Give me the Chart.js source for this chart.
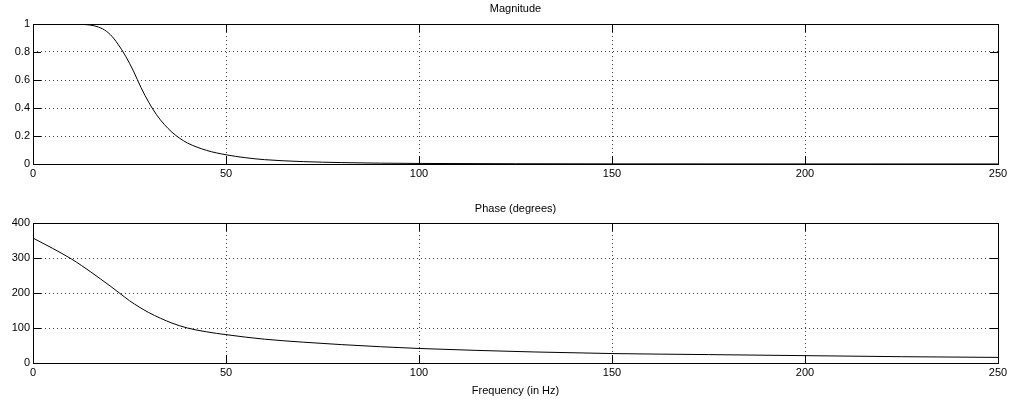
<!DOCTYPE html>
<html>
<head>
<meta charset="utf-8">
<script src="https://cdn.jsdelivr.net/npm/chart.js@4.4.1/dist/chart.umd.min.js"></script>
<style>
  html, body { margin: 0; padding: 0; background: #fff; }
  body { width: 1011px; height: 402px; position: relative; overflow: hidden; }
  .panel { position: absolute; left: 0; width: 1011px; }
  #magWrap { top: 0; height: 200px; }
  #phaseWrap { top: 200px; height: 202px; }
</style>
</head>
<body>
<div class="panel" id="magWrap"><canvas id="mag"></canvas></div>
<div class="panel" id="phaseWrap"><canvas id="phase"></canvas></div>
<script>
// Frequency response of the low-pass filter
const freqHz = [0, 5, 10, 14, 16, 18, 20, 22, 24, 26, 28, 30, 32, 34, 36, 38, 40, 45, 50, 55, 60, 70, 80, 90, 100, 125, 150, 200, 250];
const magnitude = [1.0, 1.0, 0.999, 0.995, 0.986, 0.966, 0.925, 0.857, 0.77, 0.665, 0.545, 0.44, 0.352, 0.283, 0.227, 0.184, 0.15, 0.097, 0.066, 0.045, 0.031, 0.017, 0.01, 0.006, 0.004, 0.002, 0.001, 0.0005, 0.0002];

const phaseFreqHz = [0, 5, 10, 12.5, 15, 17.5, 20, 22.5, 25, 27.5, 30, 33, 36, 40, 45, 50, 55, 60, 70, 80, 90, 100, 115, 130, 150, 175, 200, 225, 250];
const phaseDeg = [357, 328, 297, 279, 260, 240, 220, 199, 178, 160, 144, 128, 114, 100, 89, 81, 74, 68, 59.5, 52.5, 46.5, 41.5, 36, 31.5, 27, 24, 21, 18, 16];

const xTicks = [0, 50, 100, 150, 200, 250];
const magTicks = [0, 0.2, 0.4, 0.6, 0.8, 1];
const phaseTicks = [0, 100, 200, 300, 400];

const FONT = { family: "'Liberation Sans', Arial, sans-serif", size: 11, weight: 'normal' };
const TICK_LEN = 8;

// Box around the axes and inward tick marks on all four sides
const frameTicks = {
  id: 'frameTicks',
  afterDatasetsDraw(chart) {
    const { ctx, chartArea: a, scales } = chart;
    ctx.save();
    ctx.strokeStyle = '#000';
    ctx.lineWidth = 1;
    ctx.beginPath();
    scales.x.ticks.forEach(t => {
      const px = Math.round(scales.x.getPixelForValue(t.value)) + 0.5;
      ctx.moveTo(px, a.bottom); ctx.lineTo(px, a.bottom - TICK_LEN);
      ctx.moveTo(px, a.top); ctx.lineTo(px, a.top + TICK_LEN);
    });
    scales.y.ticks.forEach(t => {
      const py = Math.round(scales.y.getPixelForValue(t.value)) + 0.5;
      ctx.moveTo(a.left, py); ctx.lineTo(a.left + TICK_LEN, py);
      ctx.moveTo(a.right, py); ctx.lineTo(a.right - TICK_LEN, py);
    });
    ctx.stroke();
    ctx.strokeRect(Math.round(a.left) + 0.5, Math.round(a.top) + 0.5,
                   Math.round(a.right - a.left), Math.round(a.bottom - a.top));
    ctx.restore();
  }
};

function makePanel(canvasId, xs, ys, yTicks, titleText, xTitle, xAxisHeight, titleHeight) {
  const data = xs.map((x, i) => ({ x: x, y: ys[i] }));
  return new Chart(document.getElementById(canvasId), {
    type: 'line',
    data: {
      datasets: [{
        data: data,
        borderColor: '#000',
        borderWidth: 1,
        pointRadius: 0,
        fill: false,
        cubicInterpolationMode: 'monotone'
      }]
    },
    options: {
      responsive: true,
      maintainAspectRatio: false,
      animation: false,
      events: [],
      layout: { padding: { left: 0, right: 13, top: 0, bottom: 0 } },
      plugins: {
        legend: { display: false },
        tooltip: { enabled: false },
        title: {
          display: true,
          text: titleText,
          color: '#000',
          fullSize: false,
          font: FONT,
          padding: { top: 2, bottom: titleHeight - 2 - 13.2 }
        }
      },
      scales: {
        x: {
          type: 'linear',
          min: xTicks[0],
          max: xTicks[xTicks.length - 1],
          afterBuildTicks: s => { s.ticks = xTicks.map(v => ({ value: v })); },
          ticks: { color: '#000', font: FONT, padding: 3, maxRotation: 0, callback: v => String(v) },
          grid: {
            color: 'rgba(0,0,0,0.75)',
            drawTicks: false
          },
          border: { display: false, dash: [1, 3] },
          title: xTitle ? { display: true, text: xTitle, color: '#000', font: FONT, padding: { top: 2, bottom: 4 } } : { display: false },
          afterFit: s => { s.height = xAxisHeight; }
        },
        y: {
          type: 'linear',
          min: yTicks[0],
          max: yTicks[yTicks.length - 1],
          afterBuildTicks: s => { s.ticks = yTicks.map(v => ({ value: v })); },
          ticks: { color: '#000', font: FONT, padding: 3, callback: v => String(v) },
          grid: {
            color: 'rgba(0,0,0,0.75)',
            drawTicks: false
          },
          border: { display: false, dash: [1, 3] },
          afterFit: s => { s.width = 33; }
        }
      }
    },
    plugins: [frameTicks]
  });
}

makePanel('mag', freqHz, magnitude, magTicks, 'Magnitude', null, 36, 24);
makePanel('phase', phaseFreqHz, phaseDeg, phaseTicks, 'Phase (degrees)', 'Frequency (in Hz)', 39, 23);
</script>
</body>
</html>
